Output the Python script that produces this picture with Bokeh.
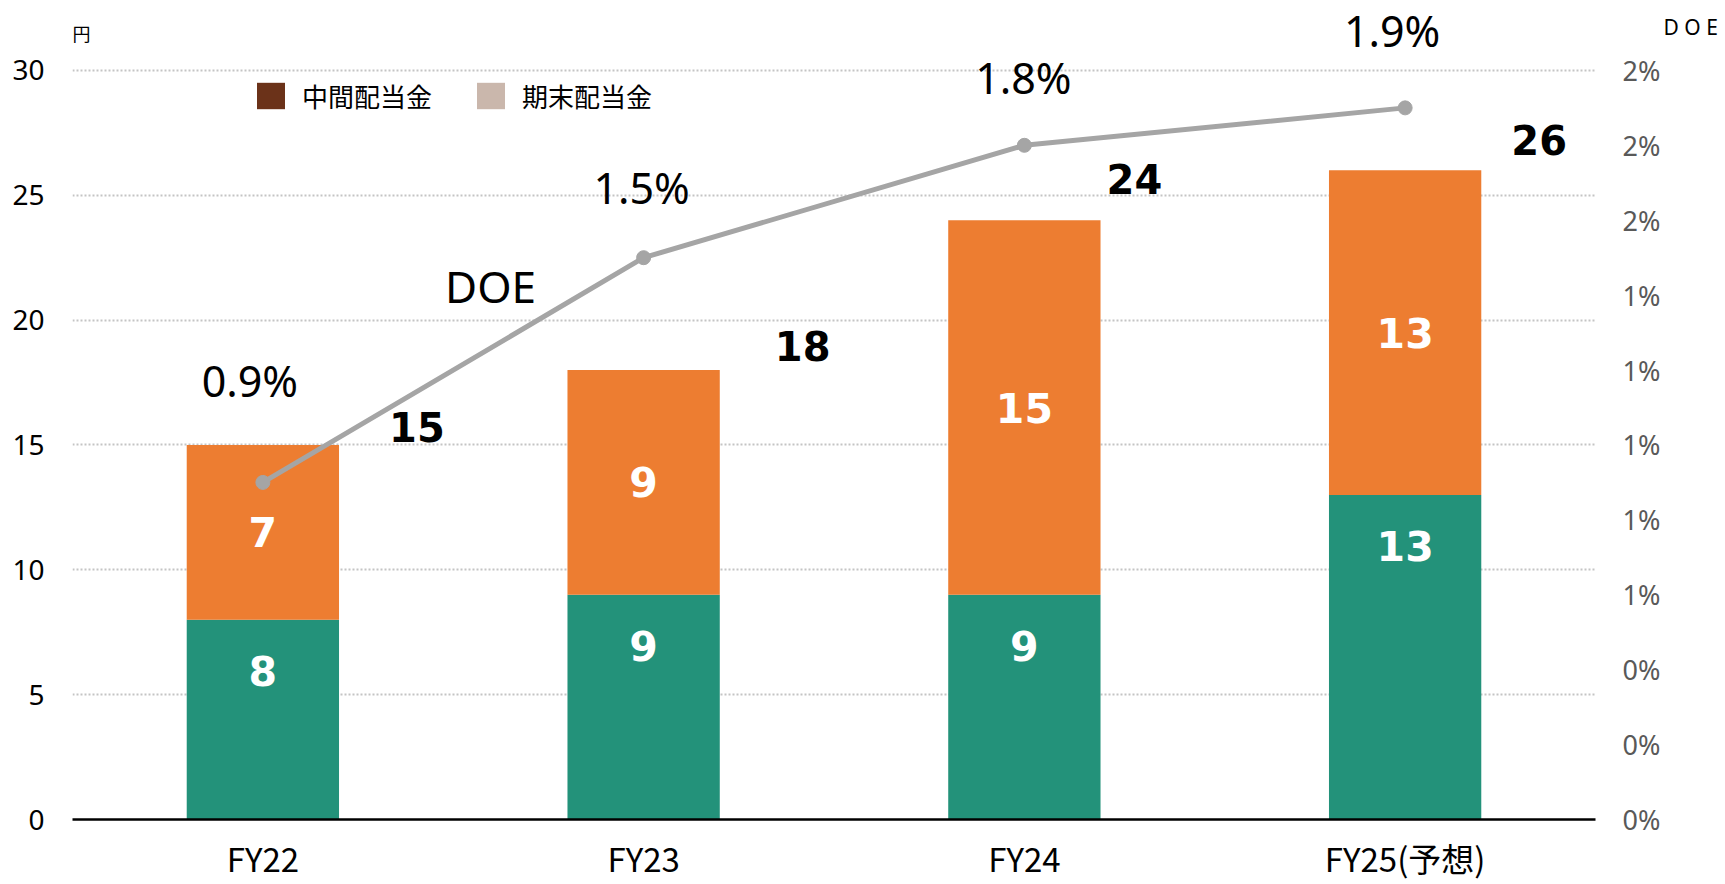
from bokeh.plotting import figure
from bokeh.models import (ColumnDataSource, FactorRange, Range1d, LinearAxis, FixedTicker,
                          CustomJSTickFormatter, Label, Legend, LegendItem)
from bokeh.core.properties import value
from bokeh.embed import file_html
from bokeh.resources import INLINE

# ---------------- data ----------------
categories = ["FY22", "FY23", "FY24", "FY25(予想)"]
interim = [8, 9, 9, 13]          # green segment
year_end = [7, 9, 15, 13]        # orange segment
doe_pct = [0.9, 1.5, 1.8, 1.9]   # DOE line (%)
legend_labels = ["中間配当金", "期末配当金"]
left_ticks = [0, 5, 10, 15, 20, 25, 30]
right_ticks = [0.0, 0.2, 0.4, 0.6, 0.8, 1.0, 1.2, 1.4, 1.6, 1.8, 2.0]

totals = [a + b for a, b in zip(interim, year_end)]

# ---------------- styling / layout ----------------
GREEN = "#23927A"
ORANGE = "#ED7D31"
LINE = "#A5A5A5"
LEG1 = "#6B3219"
LEG2 = "#CAB7AC"
W, H = 1725, 884
PX_PER_UNIT = 25.0
FRAME_H = 820
Y_END = FRAME_H / PX_PER_UNIT
LATIN = "Noto Sans"
CJK = "Noto Sans CJK JP"
BOLD = "DejaVu Sans"

# per-label pixel offsets (layout only)
total_dx = [154, 159, 110, 134]
total_dy = [-18, -24, -41, -30]
doe_dx = [-13, -2, -1, -13]
doe_dy = [-102, -70, -68, -77]

src = ColumnDataSource(dict(
    cat=categories,
    interim=interim,
    year_end=year_end,
    total=totals,
    total_txt=[str(t) for t in totals],
    interim_txt=[str(v) for v in interim],
    year_end_txt=[str(v) for v in year_end],
    year_end_mid=[a + b / 2 for a, b in zip(interim, year_end)],
    doe=doe_pct,
    doe_txt=[f"{d:.1f}%" for d in doe_pct],
    total_dx=total_dx, total_dy=total_dy,
    doe_dx=doe_dx, doe_dy=doe_dy,
))

p = figure(x_range=FactorRange(*categories), y_range=Range1d(0, Y_END),
           width=W, height=H, output_backend="svg", toolbar_location=None,
           min_border_left=72, min_border_right=130, min_border_top=0,
           min_border_bottom=H - FRAME_H)
p.extra_y_ranges = {"doe": Range1d(0, Y_END / 15.0)}
p.outline_line_color = None
p.background_fill_color = "white"

# bars
p.vbar_stack(["interim", "year_end"], x="cat", width=0.4, color=[GREEN, ORANGE],
             line_width=0, source=src)

# inner labels
p.text(x="cat", y="interim", text="interim_txt", source=src, y_offset=51,
       text_align="center", text_baseline="middle", text_color="white",
       text_font=value(BOLD), text_font_style="bold", text_font_size="41px")
p.text(x="cat", y="year_end_mid", text="year_end_txt", source=src,
       text_align="center", text_baseline="middle", text_color="white",
       text_font=value(BOLD), text_font_style="bold", text_font_size="41px")

# totals
p.text(x="cat", y="total", text="total_txt", source=src,
       x_offset="total_dx", y_offset="total_dy",
       text_align="center", text_baseline="middle", text_color="black",
       text_font=value(BOLD), text_font_style="bold", text_font_size="40px")

# DOE line
p.line(x="cat", y="doe", source=src, y_range_name="doe", line_color=LINE, line_width=5)
p.scatter(x="cat", y="doe", source=src, y_range_name="doe", size=14,
          fill_color=LINE, line_color=LINE)
p.text(x="cat", y="doe", text="doe_txt", source=src, y_range_name="doe",
       x_offset="doe_dx", y_offset="doe_dy",
       text_align="center", text_baseline="middle", text_color="black",
       text_font=value(LATIN), text_font_size="43px")

# axes
p.yaxis.ticker = FixedTicker(ticks=left_ticks)
p.yaxis.axis_line_color = None
p.yaxis.major_tick_line_color = None
p.yaxis.major_tick_out = 0
p.yaxis.major_tick_in = 0
p.yaxis.minor_tick_line_color = None
p.yaxis.major_label_standoff = 28
p.yaxis.major_label_text_font = LATIN
p.yaxis.major_label_text_font_size = "28px"
p.yaxis.major_label_text_color = "#000000"

ra = LinearAxis(y_range_name="doe", ticker=FixedTicker(ticks=right_ticks),
                formatter=CustomJSTickFormatter(code="return Math.round(tick) + '%';"))
ra.axis_line_color = None
ra.major_tick_line_color = None
ra.major_tick_out = 0
ra.major_tick_in = 0
ra.minor_tick_line_color = None
ra.major_label_standoff = 27
ra.major_label_text_font = LATIN
ra.major_label_text_font_size = "27px"
ra.major_label_text_color = "#595959"
p.add_layout(ra, "right")

p.xaxis.axis_line_color = "black"
p.xaxis.axis_line_width = 2.5
p.xaxis.major_tick_line_color = None
p.xaxis.major_tick_out = 0
p.xaxis.major_tick_in = 0
p.xaxis.minor_tick_line_color = None
p.xaxis.major_label_standoff = 14
p.xaxis.major_label_text_font = CJK
p.xaxis.major_label_text_font_size = "33px"
p.xaxis.major_label_text_color = "black"

p.xgrid.grid_line_color = None
p.ygrid.grid_line_color = "#C4C4C4"
p.ygrid.grid_line_dash = "2 2"
p.ygrid.grid_line_width = 2

# legend with swatches matching the reference legend colours (zero-height bars)
r1 = p.vbar(x="cat", top=0, source=src, width=0.1, fill_color=LEG1, line_color=None)
r2 = p.vbar(x="cat", top=0, source=src, width=0.1, fill_color=LEG2, line_color=None)
legend = Legend(items=[LegendItem(label=legend_labels[0], renderers=[r1]),
                       LegendItem(label=legend_labels[1], renderers=[r2])],
                orientation="horizontal", location=(181, 705),
                glyph_width=35, glyph_height=33, label_height=33,
                label_standoff=14, spacing=41, padding=0, margin=0,
                border_line_alpha=0, background_fill_alpha=0,
                label_text_font=CJK, label_text_font_size="26px",
                label_text_color="black")
p.add_layout(legend)

# right-axis unit caption, placed in the right side panel (outside the frame)
p.add_layout(Label(x=0, y=793, x_units="screen", y_units="screen", text="D O E",
                   text_align="left", text_baseline="middle", text_font=LATIN,
                   text_font_size="21px", text_color="black"), "right")

# annotation texts
p.add_layout(Label(x=418, y=534, x_units="screen", y_units="screen", text="DOE",
                   text_align="center", text_baseline="middle", text_font=LATIN,
                   text_font_size="44px", text_color="black"))
p.add_layout(Label(x=0, y=787, x_units="screen", y_units="screen", text="円",
                   text_align="left", text_baseline="middle", text_font=CJK,
                   text_font_size="18px", text_color="black"))

open("out.html", "w").write(file_html(p, INLINE))
